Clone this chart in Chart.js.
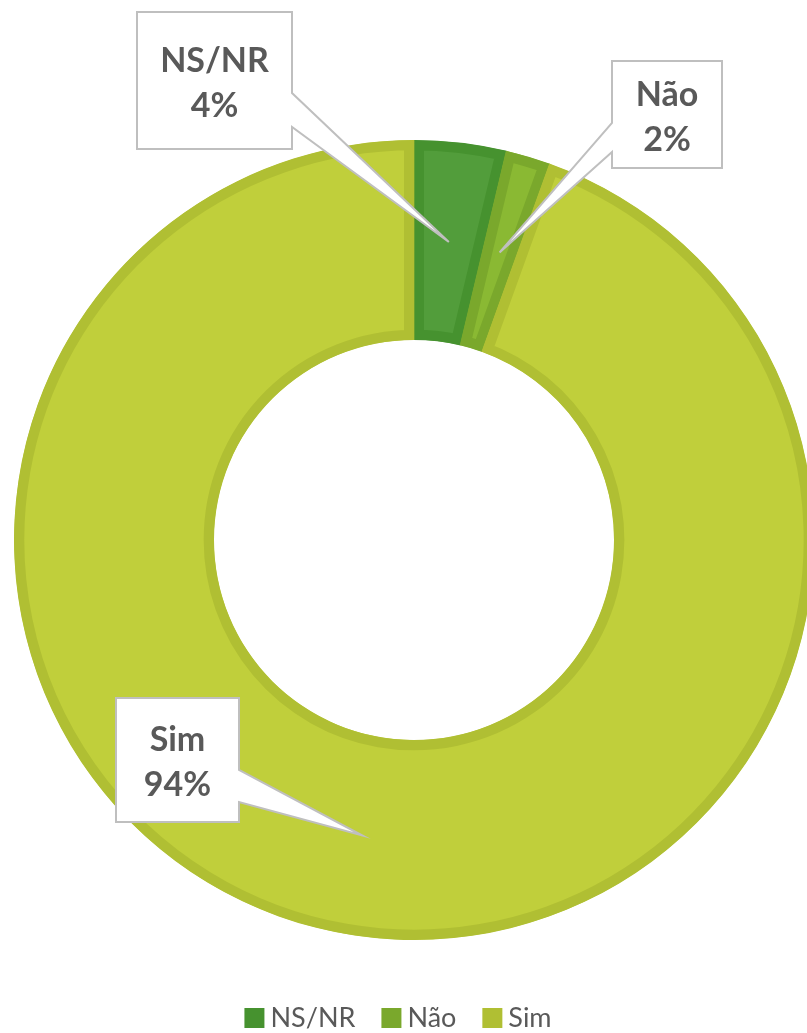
<!DOCTYPE html>
<html>
<head>
<meta charset="utf-8">
<script src="https://cdn.jsdelivr.net/npm/chart.js@4"></script>
<style>
  html, body { margin: 0; padding: 0; background: #fff; overflow: hidden; }
  #wrap { width: 807px; height: 1033px; overflow: hidden; }
</style>
</head>
<body>
<div id="wrap"><canvas id="donut" width="828" height="1033"></canvas></div>
<script>
const labels = ['NS/NR', 'Não', 'Sim'];
const values = [3.7, 1.8, 94.4];
const fillColors = ['#529d3b', '#8ab933', '#c0cf3b'];
const edgeColors = ['#46922f', '#7aa82c', '#b0bf33'];

// callout boxes (layout only): box rect, pointer side and base y on that side
const callouts = [
    { x: 137, y: 12, w: 155, h: 137, side: 'right', base: [93, 127] },
    { x: 612, y: 61, w: 110, h: 107, side: 'left', base: [123, 152] },
    { x: 116, y: 698, w: 123, h: 124, side: 'right', base: [770, 802] }
];

document.addEventListener('DOMContentLoaded', function () {
    const ctx = document.getElementById('donut').getContext('2d');

    const calloutPlugin = {
        id: 'callouts',
        afterDatasetsDraw(chart) {
            const { ctx } = chart;
            const arcs = chart.getDatasetMeta(0).data;
            const total = values.reduce((a, b) => a + b, 0);

            arcs.forEach((arc, i) => {
                const c = callouts[i];
                const tip = arc.tooltipPosition();
                const left = c.x, right = c.x + c.w, top = c.y, bottom = c.y + c.h;

                ctx.save();
                ctx.beginPath();
                if (c.side === 'right') {
                    ctx.moveTo(left, top);
                    ctx.lineTo(right, top);
                    ctx.lineTo(right, c.base[0]);
                    ctx.lineTo(tip.x, tip.y);
                    ctx.lineTo(right, c.base[1]);
                    ctx.lineTo(right, bottom);
                    ctx.lineTo(left, bottom);
                } else {
                    ctx.moveTo(left, top);
                    ctx.lineTo(right, top);
                    ctx.lineTo(right, bottom);
                    ctx.lineTo(left, bottom);
                    ctx.lineTo(left, c.base[1]);
                    ctx.lineTo(tip.x, tip.y);
                    ctx.lineTo(left, c.base[0]);
                }
                ctx.closePath();
                ctx.fillStyle = '#ffffff';
                ctx.fill();
                ctx.lineWidth = 2;
                ctx.lineJoin = 'miter';
                ctx.strokeStyle = '#bfbfbf';
                ctx.stroke();

                const cx = left + c.w / 2;
                const cy = top + c.h / 2;
                ctx.fillStyle = '#595959';
                ctx.font = 'bold 34px Lato';
                ctx.textAlign = 'center';
                ctx.textBaseline = 'alphabetic';
                ctx.fillText(labels[i], cx, cy - 9);
                ctx.fillText(Math.round(values[i] / total * 100) + '%', cx, cy + 36);
                ctx.restore();
            });

            // legend along the bottom
            ctx.save();
            ctx.font = '27px Lato';
            ctx.textBaseline = 'alphabetic';
            ctx.textAlign = 'left';
            const box = 20, gap = 6, itemGap = 26;
            const widths = labels.map(l => ctx.measureText(l).width);
            const full = widths.reduce((s, w) => s + box + gap + w, 0) + itemGap * (labels.length - 1);
            let x = 398 - full / 2;
            labels.forEach((l, i) => {
                ctx.fillStyle = edgeColors[i];
                ctx.fillRect(x, 1008, box, box);
                ctx.fillStyle = '#595959';
                ctx.fillText(l, x + box + gap, 1027);
                x += box + gap + widths[i] + itemGap;
            });
            ctx.restore();
        }
    };

    new Chart(ctx, {
        type: 'doughnut',
        data: {
            labels: labels,
            datasets: [{
                data: values,
                backgroundColor: fillColors,
                borderColor: edgeColors,
                borderWidth: 10,
                borderAlign: 'inner'
            }]
        },
        options: {
            responsive: false,
            animation: false,
            events: [],
            cutout: '50%',
            layout: { padding: { left: 14, right: 14, top: 140, bottom: 93 } },
            plugins: {
                legend: { display: false },
                tooltip: { enabled: false }
            }
        },
        plugins: [calloutPlugin]
    });
});
</script>
</body>
</html>
